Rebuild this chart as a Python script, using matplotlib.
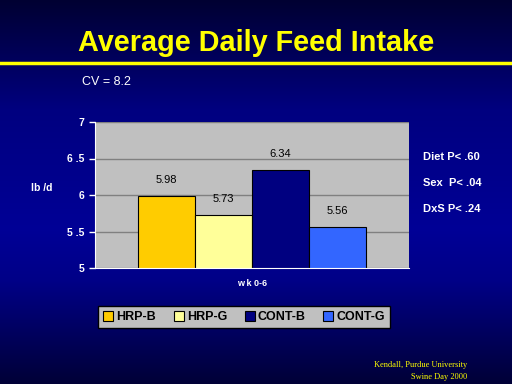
import matplotlib
matplotlib.use("Agg")
import matplotlib.pyplot as plt
import numpy as np

groups = ["HRP-B", "HRP-G", "CONT-B", "CONT-G"]
values = [5.98, 5.73, 6.34, 5.56]
colors = ["#FFCC00", "#FFFF99", "#000080", "#3366FF"]
category = "w k 0-6"
stats = ["Diet P< .60", "Sex  P< .04", "DxS P< .24"]

plt.rcParams['font.family'] = ['Liberation Sans', 'DejaVu Sans']

fig = plt.figure(figsize=(5.12, 3.84), dpi=100)

# background gradient: dark at top and bottom, brightest a bit below middle
bg = fig.add_axes([0, 0, 1, 1], zorder=0)
rows = np.arange(384)
blue = np.interp(rows, [0, 110, 230, 280, 383], [50, 128, 150, 135, 55]) / 255
img = np.zeros((384, 1, 3))
img[:, 0, 2] = blue
bg.imshow(img, aspect="auto", extent=[0, 1, 0, 1], origin="upper")
bg.set_xlim(0, 1)
bg.set_ylim(0, 1)
bg.axis("off")
bg.axhline(1 - 63 / 384, color="#FFFF00", lw=2.5)

fig.text(0.5, 1 - 43 / 384, "Average Daily Feed Intake", color="#FFFF00",
         fontsize=20.8, fontweight="bold", ha="center", va="center")
fig.text(82 / 512, 1 - 82 / 384, "CV = 8.2", color="white", fontsize=9,
         ha="left", va="center")

ax = fig.add_axes([95 / 512, 1 - 268 / 384, 314 / 512, 146 / 384], zorder=1)
ax.set_facecolor("#C0C0C0")
w = 0.182
x = (np.arange(len(values)) - 1.5) * w
bars = ax.bar(x, values, width=w, color=colors, edgecolor="black", lw=0.8,
              bottom=0, zorder=2)
ax.bar_label(bars, labels=[f"{v:.2f}" for v in values],
             padding=8, fontsize=8, color="black")
ax.set_ylim(5, 7)
ax.set_xlim(-0.5, 0.5)
ax.set_yticks([5, 5.5, 6, 6.5, 7])
ax.set_yticklabels(["5", "5 .5", "6", "6 .5", "7"])
ax.set_xticks([0])
ax.set_xticklabels([category])
ax.yaxis.grid(True, color="#808080", lw=1, zorder=1)
ax.set_axisbelow(True)
for s in ["top", "right"]:
    ax.spines[s].set_visible(False)
ax.spines["left"].set_color("white")
ax.spines["bottom"].set_color("white")
ax.tick_params(axis="y", colors="white", labelsize=7.5, length=4, width=1)
ax.tick_params(axis="x", colors="white", labelsize=6.5, length=0, pad=8)
for t in ax.get_yticklabels() + ax.get_xticklabels():
    t.set_fontweight("bold")
ax.set_ylabel("lb /d", color="white", fontsize=7.5, fontweight="bold",
              rotation=0, ha="center", va="center")
ax.yaxis.set_label_coords(-0.17, 0.55)

handles = [plt.Rectangle((0, 0), 1, 1, facecolor=c, edgecolor="black", lw=0.8)
           for c in colors]
leg = fig.legend(handles, groups,
                 ncol=4, loc="center", bbox_to_anchor=(244 / 512, 1 - 317 / 384),
                 facecolor="#C0C0C0", edgecolor="black", framealpha=1,
                 fancybox=False, fontsize=9, handlelength=0.8, handleheight=0.8,
                 handletextpad=0.25, columnspacing=1.4, borderpad=0.4,
                 borderaxespad=0)
leg.get_frame().set_linewidth(1)
for t in leg.get_texts():
    t.set_fontweight("bold")

for i, s in enumerate(stats):
    fig.text(423 / 512, 1 - (157 + 26 * i) / 384, s, color="white", fontsize=8,
             fontweight="bold", ha="left", va="center")

fig.text(467 / 512, 1 - 365 / 384, "Kendall, Purdue University", color="#FFFF00",
         fontsize=6, family="Liberation Serif", ha="right", va="center")
fig.text(467 / 512, 1 - 377 / 384, "Swine Day 2000", color="#FFFF00",
         fontsize=6, family="Liberation Serif", ha="right", va="center")

fig.savefig("out.png", dpi=100)
